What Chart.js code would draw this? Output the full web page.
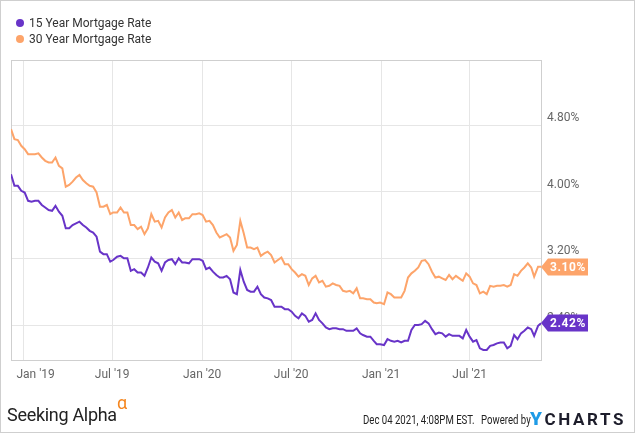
<!DOCTYPE html>
<html>
<head>
<meta charset="utf-8">
<script src="https://cdn.jsdelivr.net/npm/chart.js@4.4.1/dist/chart.umd.min.js"></script>
<style>
html,body{margin:0;padding:0;background:#fff;}
#wrap{position:relative;width:635px;height:433px;overflow:hidden;font-family:Roboto,sans-serif;}
#frame{position:absolute;left:0;top:0;width:633px;height:431px;border:1px solid #cfcfcf;pointer-events:none;}
canvas{position:absolute;left:0;top:0;}
.leg{position:absolute;left:16px;font-size:12px;color:#333;line-height:14px;white-space:nowrap;}
.leg i{display:inline-block;width:8px;height:8px;border-radius:50%;margin-right:5px;vertical-align:0px;}
.sa{position:absolute;left:7px;top:406px;font-size:18px;line-height:18px;color:#222;letter-spacing:-0.3px;white-space:nowrap;}
.alpha{position:absolute;left:117px;top:394px;font-size:18px;line-height:18px;color:#f5861f;}
.stamp{position:absolute;top:413px;font-family:Roboto,sans-serif;font-size:12px;line-height:14px;color:#222;white-space:nowrap;transform:scaleX(0.8);transform-origin:0 0;}
.yc{position:absolute;left:530px;top:410px;font-size:17px;line-height:17px;font-weight:bold;letter-spacing:2.6px;color:#1d1d2b;white-space:nowrap;}
.yc b{color:#1e9be6;font-size:19px;}
</style>
</head>
<body>
<div id="wrap">
<canvas id="c" width="635" height="433"></canvas>
<div id="frame"></div>
<div class="leg" id="leg0" style="top:16px"></div>
<div class="leg" id="leg1" style="top:32px"></div>
<div class="sa">Seeking Alpha</div>
<div class="alpha">α</div>
<div class="stamp" style="left:363px">Dec 04 2021, 4:08PM EST.</div>
<div class="stamp" style="left:481px">Powered by</div>
<div class="yc"><b>Y</b>CHARTS</div>
</div>
<script>
const seriesNames = ['15 Year Mortgage Rate', '30 Year Mortgage Rate'];
const seriesColors = ['#6834c8', '#fda46a'];

const dates = [
 '2018-12-06','2018-12-13','2018-12-20','2018-12-27',
 '2019-01-03','2019-01-10','2019-01-17','2019-01-24','2019-01-31','2019-02-07','2019-02-14','2019-02-21','2019-02-28',
 '2019-03-07','2019-03-14','2019-03-21','2019-03-28','2019-04-04','2019-04-11','2019-04-18','2019-04-25',
 '2019-05-02','2019-05-09','2019-05-16','2019-05-23','2019-05-30','2019-06-06','2019-06-13','2019-06-20','2019-06-27',
 '2019-07-03','2019-07-11','2019-07-18','2019-07-25','2019-08-01','2019-08-08','2019-08-15','2019-08-22','2019-08-29',
 '2019-09-05','2019-09-12','2019-09-19','2019-09-26','2019-10-03','2019-10-10','2019-10-17','2019-10-24','2019-10-31',
 '2019-11-07','2019-11-14','2019-11-21','2019-11-27','2019-12-05','2019-12-12','2019-12-19','2019-12-26',
 '2020-01-02','2020-01-09','2020-01-16','2020-01-23','2020-01-30','2020-02-06','2020-02-13','2020-02-20','2020-02-27',
 '2020-03-05','2020-03-12','2020-03-19','2020-03-26','2020-04-02','2020-04-09','2020-04-16','2020-04-23','2020-04-30',
 '2020-05-07','2020-05-14','2020-05-21','2020-05-28','2020-06-04','2020-06-11','2020-06-18','2020-06-25',
 '2020-07-02','2020-07-09','2020-07-16','2020-07-23','2020-07-30','2020-08-06','2020-08-13','2020-08-20','2020-08-27',
 '2020-09-03','2020-09-10','2020-09-17','2020-09-24','2020-10-01','2020-10-08','2020-10-15','2020-10-22','2020-10-29',
 '2020-11-05','2020-11-12','2020-11-19','2020-11-25','2020-12-03','2020-12-10','2020-12-17','2020-12-23','2020-12-30',
 '2021-01-07','2021-01-14','2021-01-21','2021-01-28','2021-02-04','2021-02-11','2021-02-18','2021-02-25',
 '2021-03-04','2021-03-11','2021-03-18','2021-03-25','2021-04-01','2021-04-08','2021-04-15','2021-04-22','2021-04-29',
 '2021-05-06','2021-05-13','2021-05-20','2021-05-27','2021-06-03','2021-06-10','2021-06-17','2021-06-24',
 '2021-07-01','2021-07-08','2021-07-15','2021-07-22','2021-07-29','2021-08-05','2021-08-12','2021-08-19','2021-08-26',
 '2021-09-02','2021-09-09','2021-09-16','2021-09-23','2021-09-30','2021-10-07','2021-10-14','2021-10-21','2021-10-28',
 '2021-11-04','2021-11-10','2021-11-18','2021-11-24'
];

const rate15 = [
 4.21,4.07,4.07,4.01,
 3.99,3.89,3.88,3.89,3.89,3.84,3.81,3.78,3.77,3.83,3.76,3.71,3.56,3.56,3.60,3.62,3.64,3.60,3.57,3.53,3.51,3.46,
 3.28,3.25,3.25,3.16,3.18,3.22,3.23,3.20,3.20,3.05,3.07,3.03,3.03,2.99,3.09,3.21,3.16,3.14,3.05,3.15,3.18,3.19,
 3.13,3.20,3.15,3.15,3.14,3.19,3.19,3.19,
 3.17,3.07,3.09,3.04,3.00,2.97,2.97,2.99,2.95,2.79,2.77,3.06,2.92,2.82,2.80,2.80,2.86,2.77,2.73,2.72,2.70,2.62,
 2.62,2.62,2.59,2.59,2.56,2.51,2.48,2.54,2.51,2.44,2.46,2.54,2.46,2.42,2.37,2.35,2.36,2.36,2.35,2.35,2.33,2.33,
 2.33,2.36,2.30,2.28,2.26,2.26,2.21,2.17,2.17,
 2.16,2.23,2.21,2.20,2.21,2.19,2.21,2.21,2.34,2.40,2.40,2.41,2.45,2.42,2.35,2.29,2.31,2.30,2.26,2.29,2.27,
 2.27,2.27,2.24,2.34,2.26,2.20,2.22,2.12,2.10,2.10,2.15,2.16,2.18,2.19,2.19,2.12,2.15,2.28,2.23,2.30,2.33,2.37,
 2.35,2.27,2.39,2.42
];

const rate30 = [
 4.75,4.63,4.62,4.55,
 4.51,4.45,4.45,4.45,4.46,4.41,4.37,4.35,4.35,4.41,4.31,4.28,4.06,4.08,4.12,4.17,4.20,4.14,4.10,4.07,4.06,3.99,
 3.82,3.82,3.84,3.73,3.75,3.75,3.81,3.75,3.75,3.60,3.60,3.55,3.58,3.49,3.56,3.73,3.64,3.65,3.57,3.69,3.75,3.78,
 3.69,3.75,3.66,3.68,3.68,3.73,3.73,3.74,
 3.72,3.64,3.65,3.60,3.51,3.45,3.47,3.49,3.45,3.29,3.36,3.65,3.50,3.33,3.33,3.31,3.33,3.23,3.26,3.28,3.24,3.15,
 3.18,3.21,3.13,3.13,3.07,3.03,2.98,3.01,2.99,2.88,2.96,2.99,2.91,2.93,2.86,2.87,2.90,2.88,2.87,2.81,2.80,2.81,
 2.78,2.84,2.72,2.72,2.71,2.71,2.67,2.66,2.67,
 2.65,2.79,2.77,2.73,2.73,2.73,2.81,2.97,3.02,3.05,3.09,3.17,3.18,3.13,3.04,2.97,2.98,2.96,2.94,3.00,2.95,
 2.99,2.96,2.93,3.02,2.98,2.90,2.88,2.78,2.80,2.77,2.87,2.86,2.87,2.87,2.88,2.86,2.88,3.01,2.99,3.05,3.09,3.14,
 3.09,2.98,3.10,3.10
];

const xTickDates = ['2019-01-01','2019-07-01','2020-01-01','2020-07-01','2021-01-01','2021-07-01'];
const xTickLabels = ["Jan '19", "Jul '19", "Jan '20", "Jul '20", "Jan '21", "Jul '21"];
const yTickValues = [2.40, 3.20, 4.00, 4.80];
const yMin = 1.98, yMax = 5.58;

// legend
seriesNames.forEach((n, i) => {
  const el = document.getElementById('leg' + i);
  el.innerHTML = '<i style="background:' + seriesColors[i] + '"></i>';
  el.appendChild(document.createTextNode(n));
});

const toDay = s => Date.UTC(+s.slice(0, 4), +s.slice(5, 7) - 1, +s.slice(8, 10)) / 864e5;
const xs = dates.map(toDay);

const framePlugin = {
  id: 'frame',
  beforeDatasetsDraw(chart) {
    const a = chart.chartArea, ctx = chart.ctx;
    ctx.save();
    ctx.strokeStyle = '#cfcfcf';
    ctx.lineWidth = 1;
    ctx.strokeRect(a.left + 0.5, a.top + 0.5, a.right - a.left, a.bottom - a.top);
    ctx.restore();
  }
};

const tagPlugin = {
  id: 'tags',
  afterDraw(chart) {
    const ctx = chart.ctx, right = chart.chartArea.right;
    chart.data.datasets.forEach((ds, i) => {
      const meta = chart.getDatasetMeta(i);
      const pt = meta.data[meta.data.length - 1];
      const y = Math.round(pt.y);
      ctx.save();
      ctx.fillStyle = ds.borderColor;
      ctx.beginPath();
      ctx.moveTo(right, y);
      ctx.lineTo(right + 7, y - 8.5);
      ctx.lineTo(right + 47, y - 8.5);
      ctx.lineTo(right + 47, y + 8.5);
      ctx.lineTo(right + 7, y + 8.5);
      ctx.closePath();
      ctx.fill();
      ctx.fillStyle = '#fff';
      ctx.font = 'bold 12px Roboto';
      try { ctx.letterSpacing = '0.6px'; } catch (e) {}
      ctx.textAlign = 'center';
      ctx.textBaseline = 'middle';
      ctx.fillText(ds.data[ds.data.length - 1].y.toFixed(2) + '%', right + 27, y + 0.5);
      ctx.restore();
    });
  }
};

new Chart(document.getElementById('c'), {
  type: 'line',
  data: {
    datasets: [
      { label: seriesNames[0], data: xs.map((x, i) => ({ x, y: rate15[i] })), borderColor: seriesColors[0], backgroundColor: seriesColors[0], borderWidth: 2, pointRadius: 0, tension: 0 },
      { label: seriesNames[1], data: xs.map((x, i) => ({ x, y: rate30[i] })), borderColor: seriesColors[1], backgroundColor: seriesColors[1], borderWidth: 2, pointRadius: 0, tension: 0 }
    ]
  },
  options: {
    responsive: false,
    animation: false,
    events: [],
    layout: { padding: { left: 11, top: 60, right: 0, bottom: 0 } },
    plugins: { legend: { display: false }, tooltip: { enabled: false } },
    scales: {
      x: {
        type: 'linear',
        min: xs[0],
        max: xs[xs.length - 1],
        afterBuildTicks: s => { s.ticks = xTickDates.map(d => ({ value: toDay(d) })); },
        afterFit: s => { s.height = 73; s.paddingLeft = 0; s.paddingRight = 0; },
        grid: { color: '#e6e6e6', drawTicks: false },
        border: { display: false },
        ticks: {
          padding: 8, color: '#666', maxRotation: 0, autoSkip: false,
          font: { family: 'Roboto', size: 12 },
          callback: (v, i) => (i === 0 ? '        ' : '') + xTickLabels[i]
        }
      },
      y: {
        type: 'linear',
        position: 'right',
        min: yMin,
        max: yMax,
        afterBuildTicks: s => { s.ticks = yTickValues.map(v => ({ value: v })); },
        afterFit: s => { s.width = 94; },
        grid: { color: '#e6e6e6', drawTicks: false },
        border: { display: false },
        ticks: {
          padding: 6, labelOffset: -7, color: '#666',
          font: { family: 'Roboto', size: 12 },
          callback: v => v.toFixed(2) + '%'
        }
      }
    }
  },
  plugins: [framePlugin, tagPlugin]
});
</script>
</body>
</html>
